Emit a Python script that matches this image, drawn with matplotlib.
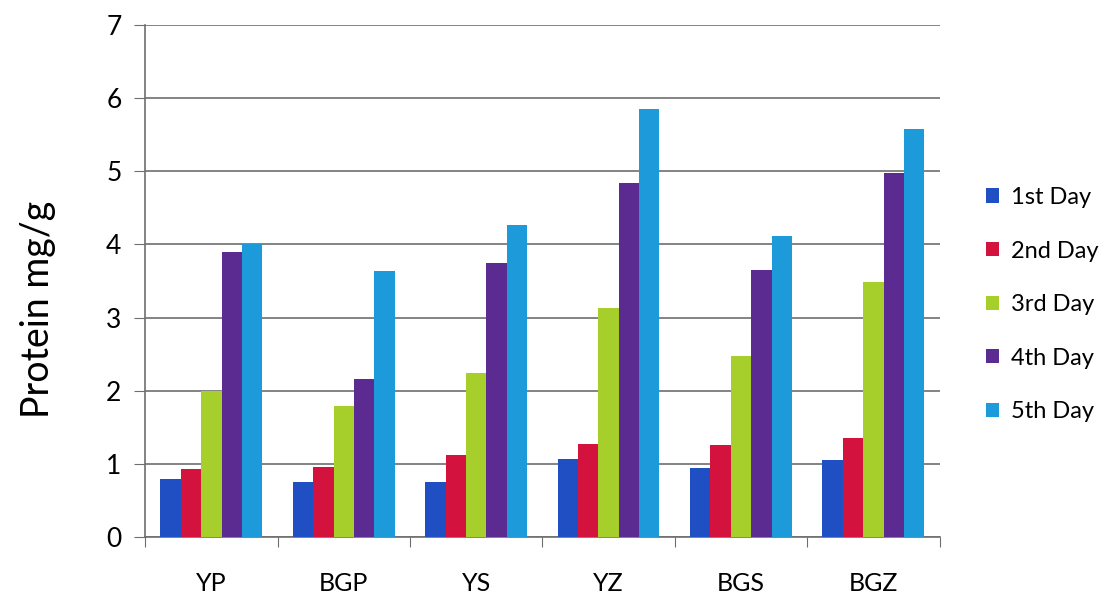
import numpy as np
import matplotlib.pyplot as plt
from matplotlib.patches import Patch

plt.rcParams['font.family'] = ['Lato', 'DejaVu Sans']

samples = ["YP", "BGP", "YS", "YZ", "BGS", "BGZ"]
days = ["1st Day", "2nd Day", "3rd Day", "4th Day", "5th Day"]
day1 = [0.79, 0.75, 0.75, 1.07, 0.95, 1.05]
day2 = [0.93, 0.96, 1.12, 1.27, 1.26, 1.36]
day3 = [2.00, 1.79, 2.24, 3.13, 2.48, 3.48]
day4 = [3.90, 2.16, 3.75, 4.84, 3.65, 4.98]
day5 = [4.00, 3.64, 4.27, 5.85, 4.12, 5.58]
colors = ["#1f4fc2", "#d3123e", "#a6cf2c", "#5b2b91", "#1d9ad9"]

series = [day1, day2, day3, day4, day5]

fig = plt.figure(figsize=(11.08, 5.96), dpi=100)
ax = fig.add_axes([0.131, 0.099, 0.717, 0.859])

x = np.arange(len(samples))
w = 1 / 6.5
for i, (vals, c) in enumerate(zip(series, colors)):
    ax.bar(x + (i - 2) * w, vals, width=w, color=c, zorder=3)

ax.set_xlim(-0.5, len(samples) - 0.5)
ax.set_ylim(0, 7)
ax.set_yticks(range(0, 8))
ax.grid(axis='y', color='#6e6e6e', linewidth=1.2, zorder=0)

for s in ['top', 'right']:
    ax.spines[s].set_visible(False)
for s in ['left', 'bottom']:
    ax.spines[s].set_color('#6e6e6e')
    ax.spines[s].set_linewidth(1.2)

ax.set_xticks(np.arange(-0.5, len(samples) + 0.5, 1.0))
ax.set_xticklabels([])
ax.set_xticks(x, minor=True)
ax.set_xticklabels(samples, minor=True, fontsize=18)
ax.tick_params(axis='x', which='minor', length=0, pad=25)
ax.tick_params(axis='x', which='major', length=7, color='#6e6e6e', direction='out')
ax.tick_params(axis='y', length=8, color='#6e6e6e', labelsize=19, pad=9)

ax.set_ylabel("Protein mg/g", fontsize=27)
ax.yaxis.set_label_coords(-0.112, 0.445)

handles = [Patch(facecolor=c, label=d) for c, d in zip(colors, days)]
fig.legend(handles=handles, loc='upper left', bbox_to_anchor=(0.871, 0.722),
           frameon=False, fontsize=17, handlelength=0.55, handleheight=0.55,
           handletextpad=0.5, labelspacing=1.38)

fig.savefig("out.png", dpi=100, facecolor='white')
